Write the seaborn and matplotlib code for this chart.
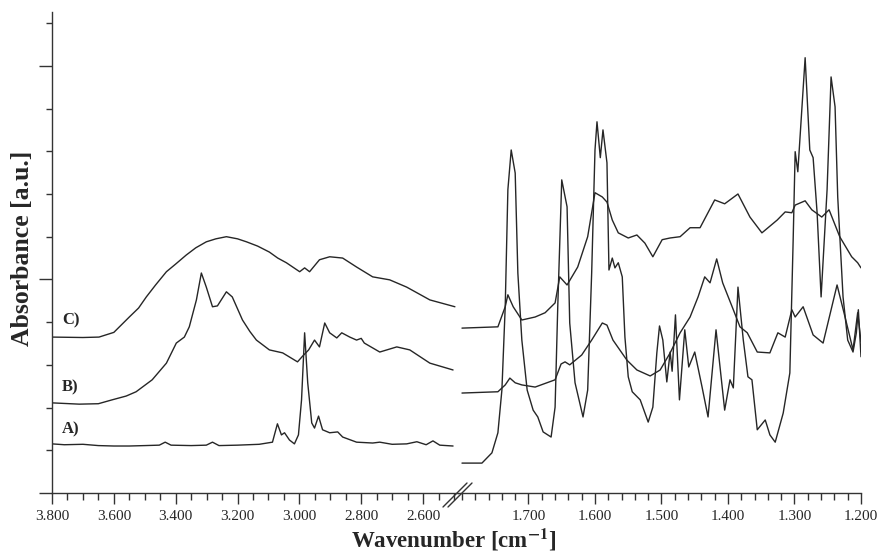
import pandas as pd
import matplotlib.pyplot as plt
import seaborn as sns
from matplotlib.lines import Line2D
from matplotlib.ticker import FuncFormatter, MultipleLocator, FixedLocator

# ---- data (wavenumber in cm-1, absorbance in a.u.) ----
# high wavenumber region (3800 - 2500)
a_hi_wn = [3800, 3760, 3700, 3650, 3600, 3550, 3500, 3453, 3434, 3415, 3350, 3301, 3281, 3260,
           3200, 3130, 3087, 3071, 3058, 3048, 3032, 3016, 3003, 2993, 2983, 2973, 2960, 2951,
           2938, 2925, 2902, 2876, 2860, 2815, 2763, 2740, 2700, 2653, 2620, 2590, 2568, 2546, 2503]
a_hi_abs = [1.15, 1.13, 1.14, 1.11, 1.10, 1.10, 1.11, 1.12, 1.19, 1.12, 1.11, 1.12, 1.19, 1.11,
            1.12, 1.14, 1.19, 1.62, 1.36, 1.41, 1.24, 1.15, 1.36, 2.18, 3.75, 2.58, 1.64, 1.52,
            1.80, 1.48, 1.41, 1.43, 1.31, 1.19, 1.17, 1.19, 1.14, 1.15, 1.20, 1.13, 1.22, 1.12, 1.10]

b_hi_wn = [3800, 3712, 3650, 3606, 3560, 3528, 3476, 3430, 3398, 3372, 3356, 3333, 3317, 3301,
           3281, 3265, 3236, 3217, 3184, 3160, 3139, 3097, 3054, 3006, 2990, 2970, 2951, 2935,
           2918, 2902, 2879, 2863, 2837, 2815, 2800, 2790, 2740, 2685, 2643, 2578, 2503]
b_hi_abs = [2.11, 2.08, 2.09, 2.18, 2.27, 2.37, 2.65, 3.04, 3.51, 3.65, 3.89, 4.52, 5.15, 4.82,
            4.36, 4.38, 4.71, 4.59, 4.05, 3.78, 3.58, 3.35, 3.28, 3.07, 3.20, 3.35, 3.58, 3.42,
            3.98, 3.75, 3.63, 3.75, 3.65, 3.58, 3.62, 3.51, 3.30, 3.42, 3.35, 3.04, 2.88]

c_hi_wn = [3800, 3700, 3648, 3600, 3550, 3520, 3495, 3465, 3430, 3400, 3366, 3335, 3301, 3270,
           3236, 3200, 3171, 3135, 3097, 3070, 3042, 2999, 2983, 2967, 2935, 2902, 2860, 2815,
           2763, 2708, 2653, 2578, 2497]
c_hi_abs = [3.65, 3.64, 3.65, 3.76, 4.12, 4.33, 4.59, 4.87, 5.18, 5.36, 5.57, 5.74, 5.88, 5.95,
            6.00, 5.95, 5.88, 5.78, 5.64, 5.50, 5.39, 5.18, 5.27, 5.18, 5.46, 5.53, 5.50, 5.29,
            5.06, 4.99, 4.82, 4.52, 4.36]

# fingerprint region (1800 - 1200)
a_lo_wn = [1800, 1770, 1755, 1746, 1740, 1735, 1731, 1726, 1720, 1716, 1710, 1702, 1693, 1686,
           1678, 1666, 1660, 1656, 1650, 1642, 1638, 1630, 1618, 1611, 1605, 1600, 1597, 1592,
           1588, 1582, 1579, 1574, 1570, 1565, 1559, 1555, 1550, 1544, 1532, 1520, 1513, 1507,
           1503, 1498, 1492, 1487, 1484, 1479, 1473, 1465, 1459, 1450, 1439, 1430, 1418, 1405,
           1397, 1392, 1385, 1377, 1370, 1364, 1356, 1344, 1337, 1329, 1317, 1307, 1302, 1299,
           1295, 1284, 1277, 1272, 1266, 1260, 1251, 1245, 1239, 1235, 1227, 1220, 1212, 1207,
           1204, 1200]
a_lo_abs = [0.70, 0.70, 0.94, 1.41, 2.41, 4.36, 7.10, 8.03, 7.49, 5.15, 3.58, 2.41, 1.94, 1.78,
            1.43, 1.31, 2.01, 4.36, 7.33, 6.70, 3.98, 2.58, 1.78, 2.41, 5.15, 8.03, 8.69, 7.85,
            8.50, 7.73, 5.22, 5.50, 5.27, 5.39, 5.06, 3.65, 2.72, 2.37, 2.18, 1.66, 2.01, 3.28,
            3.91, 3.58, 2.60, 3.30, 2.85, 4.17, 2.18, 3.82, 2.95, 3.30, 2.48, 1.78, 3.82, 1.94,
            2.65, 2.46, 4.82, 3.58, 2.72, 2.65, 1.48, 1.71, 1.36, 1.19, 1.87, 2.81, 5.93, 7.99,
            7.52, 10.19, 8.03, 7.85, 6.56, 4.59, 7.10, 9.74, 9.04, 6.93, 4.59, 3.58, 3.30, 3.75,
            4.29, 3.19]

b_lo_wn = [1800, 1746, 1735, 1728, 1720, 1710, 1690, 1660, 1651, 1645, 1638, 1620, 1605, 1589,
           1582, 1573, 1552, 1537, 1517, 1502, 1487, 1472, 1457, 1445, 1435, 1427, 1417, 1408,
           1392, 1382, 1371, 1356, 1337, 1325, 1314, 1304, 1299, 1287, 1272, 1257, 1236, 1224,
           1212, 1205, 1200]
b_lo_abs = [2.34, 2.37, 2.53, 2.69, 2.58, 2.53, 2.48, 2.65, 3.02, 3.07, 3.00, 3.23, 3.58, 3.98,
            3.93, 3.58, 3.11, 2.88, 2.74, 2.88, 3.28, 3.75, 4.12, 4.59, 5.06, 4.92, 5.48, 4.92,
            4.29, 3.89, 3.75, 3.30, 3.28, 3.75, 3.65, 4.29, 4.12, 4.36, 3.70, 3.51, 4.87, 4.12,
            3.35, 4.22, 3.54]

c_lo_wn = [1800, 1746, 1735, 1731, 1723, 1710, 1690, 1675, 1660, 1653, 1642, 1626, 1611, 1600,
           1589, 1582, 1574, 1565, 1550, 1537, 1525, 1513, 1499, 1487, 1472, 1457, 1442, 1420,
           1405, 1385, 1367, 1349, 1326, 1314, 1304, 1299, 1284, 1274, 1259, 1248, 1232, 1214,
           1205, 1200]
c_lo_abs = [3.86, 3.89, 4.36, 4.64, 4.36, 4.05, 4.12, 4.22, 4.45, 5.06, 4.87, 5.29, 6.00, 7.03,
            6.93, 6.81, 6.39, 6.09, 5.97, 6.04, 5.85, 5.53, 5.93, 5.97, 6.00, 6.21, 6.21, 6.86,
            6.77, 7.00, 6.46, 6.09, 6.39, 6.58, 6.56, 6.74, 6.84, 6.63, 6.46, 6.63, 6.00, 5.53,
            5.39, 5.27]

samples = ['A)', 'B)', 'C)']
lo_ticks = [1700, 1600, 1500, 1400, 1300, 1200]


def frame(wns, absorb):
    parts = [pd.DataFrame({'wn': w, 'absorbance': a, 'sample': s})
             for w, a, s in zip(wns, absorb, samples)]
    return pd.concat(parts, ignore_index=True)


df_hi = frame([a_hi_wn, b_hi_wn, c_hi_wn], [a_hi_abs, b_hi_abs, c_hi_abs])
df_lo = frame([a_lo_wn, b_lo_wn, c_lo_wn], [a_lo_abs, b_lo_abs, c_lo_abs])

sns.set_style('ticks')
plt.rcParams['font.family'] = ['Liberation Serif', 'DejaVu Serif']
plt.rcParams['mathtext.fontset'] = 'stix'

line_col = '#262626'
pal = {s: line_col for s in samples}

fig = plt.figure(figsize=(8.81, 5.58), dpi=100)
ax_l = fig.add_axes([52 / 881, 65 / 558, 406 / 881, 481 / 558])
ax_r = fig.add_axes([458 / 881, 65 / 558, 403 / 881, 481 / 558])

sns.lineplot(data=df_hi, x='wn', y='absorbance', hue='sample', palette=pal, estimator=None,
             sort=False, legend=False, lw=1.0, ax=ax_l)
sns.lineplot(data=df_lo, x='wn', y='absorbance', hue='sample', palette=pal, estimator=None,
             sort=False, legend=False, lw=1.0, ax=ax_r)

thousands = FuncFormatter(lambda v, p: f'{v:,.0f}'.replace(',', '.'))

for ax in (ax_l, ax_r):
    ax.set_ylim(0, 11.26)
    ax.set_xlabel('')
    ax.set_ylabel('')
    ax.spines['top'].set_visible(False)
    ax.spines['right'].set_visible(False)
    ax.spines['bottom'].set_linewidth(1.0)
    ax.spines['bottom'].set_color('#333333')
    ax.tick_params(axis='x', which='major', length=8, width=1, pad=4, labelsize=11,
                   color='#333333')
    ax.tick_params(axis='x', which='minor', length=5, width=1, color='#333333')

ax_l.set_xlim(3800, 2487)
ax_l.xaxis.set_major_locator(MultipleLocator(200))
ax_l.xaxis.set_minor_locator(MultipleLocator(50))
ax_l.xaxis.set_major_formatter(thousands)
ax_l.yaxis.set_major_locator(MultipleLocator(5))
ax_l.yaxis.set_minor_locator(MultipleLocator(1))
ax_l.spines['left'].set_linewidth(1.0)
ax_l.spines['left'].set_color('#333333')
ax_l.tick_params(axis='y', which='major', length=9.5, width=1, labelleft=False, color='#333333')
ax_l.tick_params(axis='y', which='minor', length=4.5, width=1, color='#333333')

ax_r.set_xlim(1806, 1200)
ax_r.xaxis.set_major_locator(FixedLocator(lo_ticks))
ax_r.xaxis.set_minor_locator(MultipleLocator(20))
ax_r.xaxis.set_major_formatter(thousands)
ax_r.spines['left'].set_visible(False)
ax_r.tick_params(axis='y', which='both', left=False, labelleft=False)

# axis break marks
for dx in (0, 5):
    fig.add_artist(Line2D([(443 + dx) / 881, (467 + dx) / 881], [1 - 507 / 558, 1 - 483 / 558],
                          transform=fig.transFigure, color='#333333', lw=1.0))

# curve labels
for name, yv in zip(samples, [1.48, 2.48, 4.05]):
    ax_l.text(3768, yv, name, fontsize=12, fontweight='bold', va='center', ha='left')

fig.text(454 / 881, 1 - 540 / 558, r'Wavenumber [cm$^{\mathbf{-1}}$]', fontsize=16.5,
         fontweight='bold', ha='center', va='center')
fig.text(23 / 881, 1 - 248 / 558, 'Absorbance [a.u.]', fontsize=18.5, fontweight='bold',
         rotation=90, ha='center', va='center')

fig.savefig('out.png', dpi=100)
